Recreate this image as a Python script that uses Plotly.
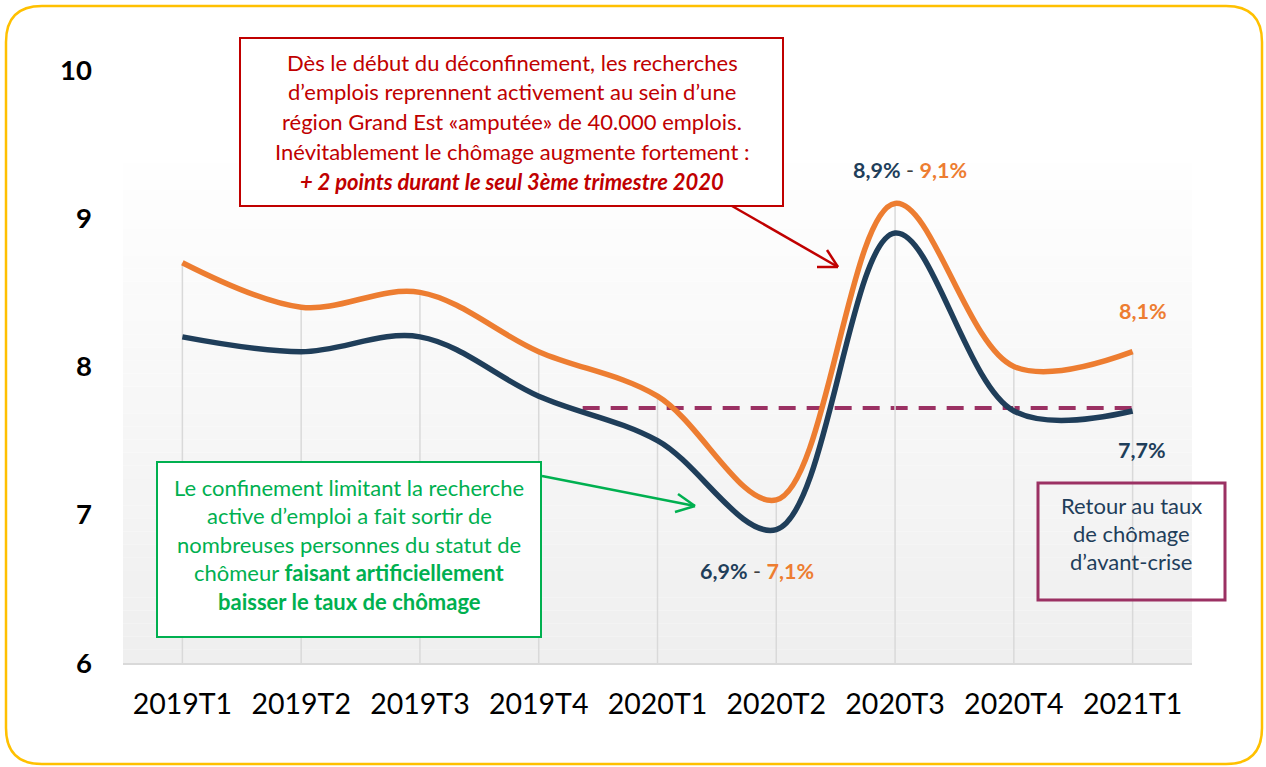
import plotly.graph_objects as go

# ---------------- data ----------------
categories = ["2019T1", "2019T2", "2019T3", "2019T4", "2020T1",
              "2020T2", "2020T3", "2020T4", "2021T1"]
serie_bleue = [8.2, 8.1, 8.2, 7.8, 7.5, 6.9, 8.9, 7.7, 7.7]
serie_orange = [8.7, 8.4, 8.5, 8.1, 7.8, 7.1, 9.1, 8.0, 8.1]
y_ticks = [6, 7, 8, 9, 10]
niveau_avant_crise = 7.72

# ---------------- style ----------------
W, H = 1266, 767
L, R, T, B = 123, 74, 70, 104
PW, PH = W - L - R, H - T - B
BLUE = "#1F3E5A"
ORANGE = "#ED7D31"
RED = "#C00000"
GREEN = "#00B050"
PURPLE = "#9B3163"
FONT = "Lato"
TXT = 22


def px(xp, yp):
    """pixel -> paper coordinates"""
    return (xp - L) / PW, (H - B - yp) / PH


fig = go.Figure()

# drop lines (from axis to highest series value)
dx, dy = [], []
for c, a, b in zip(categories, serie_bleue, serie_orange):
    dx += [c, c, None]
    dy += [y_ticks[0], max(a, b), None]
fig.add_trace(go.Scatter(x=dx, y=dy, mode="lines", hoverinfo="skip",
                         line=dict(color="#D9D9D9", width=1.5), showlegend=False))

fig.add_trace(go.Scatter(x=categories, y=serie_orange, mode="lines",
                         line=dict(color=ORANGE, width=5.5, shape="spline", smoothing=1.0),
                         showlegend=False))
fig.add_trace(go.Scatter(x=categories, y=serie_bleue, mode="lines",
                         line=dict(color=BLUE, width=5.5, shape="spline", smoothing=1.0),
                         showlegend=False))

shapes = []
# gradient background of the plot area
n = 40
top = px(0, 137)[1]
for i in range(n):
    f = i / (n - 1)
    v = int(round(239 + (255 - 239) * f))
    shapes.append(dict(type="rect", xref="paper", yref="paper", layer="below",
                       x0=0, x1=1, y0=top * i / n, y1=top * (i + 1) / n,
                       line=dict(width=0), fillcolor=f"rgb({v},{v},{v})"))

# pre-crisis dashed reference line
shapes.append(dict(type="line", xref="x", yref="y", layer="below",
                   x0=3.37, x1=8, y0=niveau_avant_crise, y1=niveau_avant_crise,
                   line=dict(color=PURPLE, width=4, dash="17px,11px")))


def rect(x0, y0, x1, y1, color, width, fill="white"):
    a = px(x0, y0)
    b = px(x1, y1)
    shapes.append(dict(type="rect", xref="paper", yref="paper", layer="above",
                       x0=a[0], y0=b[1], x1=b[0], y1=a[1],
                       line=dict(color=color, width=width), fillcolor=fill))


def seg(p, q, color, width=2.5):
    a = px(*p)
    b = px(*q)
    shapes.append(dict(type="line", xref="paper", yref="paper", layer="above",
                       x0=a[0], y0=a[1], x1=b[0], y1=b[1],
                       line=dict(color=color, width=width)))


rect(240, 38, 783, 206, RED, 2)
rect(157, 462, 541, 637, GREEN, 2)
rect(1038, 483, 1225, 600, PURPLE, 3, fill="rgba(0,0,0,0)")

# arrows
seg((732, 206), (838, 267), RED)
seg((838, 267), (827, 250), RED)
seg((838, 267), (817, 267), RED)
seg((542, 476), (695, 506), GREEN)
seg((695, 506), (678, 494), GREEN)
seg((695, 506), (675, 512), GREEN)

# outer rounded gold frame
x0, y0, x1, y1, r = 6, 6, 1262, 764, 36


def P(a, b):
    q = px(a, b)
    return f"{q[0]:.5f},{q[1]:.5f}"


path = (f"M {P(x0 + r, y0)} L {P(x1 - r, y0)} Q {P(x1, y0)} {P(x1, y0 + r)} "
        f"L {P(x1, y1 - r)} Q {P(x1, y1)} {P(x1 - r, y1)} "
        f"L {P(x0 + r, y1)} Q {P(x0, y1)} {P(x0, y1 - r)} "
        f"L {P(x0, y0 + r)} Q {P(x0, y0)} {P(x0 + r, y0)} Z")
shapes.append(dict(type="path", xref="paper", yref="paper", path=path, layer="above",
                   line=dict(color="#FFC000", width=2.5)))

annotations = []


def text(xp, yp, s, color, size=TXT):
    a = px(xp, yp)
    annotations.append(dict(xref="paper", yref="paper", x=a[0], y=a[1], text=s,
                            showarrow=False, xanchor="center", yanchor="middle",
                            font=dict(family=FONT, size=size, color=color)))


red_lines = ["Dès le début du déconfinement, les recherches",
             "d’emplois reprennent activement au sein d’une",
             "région Grand Est «amputée» de 40.000 emplois.",
             "Inévitablement le chômage augmente fortement :",
             "<b><i>+ 2 points durant le seul 3ème trimestre 2020</i></b>"]
for i, s in enumerate(red_lines):
    text(512, 62 + i * 29.8, s, RED)

green_lines = ["Le confinement limitant la recherche",
               "active d’emploi a fait sortir de",
               "nombreuses personnes du statut de",
               "chômeur <b>faisant artificiellement</b>",
               "<b>baisser le taux de chômage</b>"]
for i, s in enumerate(green_lines):
    text(349, 487 + i * 28.6, s, GREEN)

purple_lines = ["Retour au taux", "de chômage", "d’avant-crise"]
for i, s in enumerate(purple_lines):
    text(1131, 505 + i * 28, s, BLUE)


def lab(cat, val, s, xs, ys):
    annotations.append(dict(xref="x", yref="y", x=cat, y=val, text=s, showarrow=False,
                            xshift=xs, yshift=ys, xanchor="center", yanchor="middle",
                            font=dict(family=FONT, size=21.5, color=BLUE)))


def pair(a, b):
    return (f"<b><span style='color:{BLUE}'>{a}</span></b>"
            f"<span style='color:#404040'> - </span>"
            f"<b><span style='color:{ORANGE}'>{b}</span></b>")


def pct(v):
    return f"{v:.1f}%".replace(".", ",")


i3 = categories.index("2020T3")
i2 = categories.index("2020T2")
lab(categories[i3], serie_orange[i3], pair(pct(serie_bleue[i3]), pct(serie_orange[i3])), 15, 33)
lab(categories[i2], serie_bleue[i2], pair(pct(serie_bleue[i2]), pct(serie_orange[i2])), -19, -41)
lab(categories[-1], serie_orange[-1],
    f"<b><span style='color:{ORANGE}'>{pct(serie_orange[-1])}</span></b>", 10, 41)
lab(categories[-1], serie_bleue[-1],
    f"<b><span style='color:{BLUE}'>{pct(serie_bleue[-1])}</span></b>", 9, -39)

fig.update_layout(
    width=W, height=H,
    margin=dict(l=L, r=R, t=T, b=B, pad=0),
    paper_bgcolor="white", plot_bgcolor="white",
    shapes=shapes, annotations=annotations,
    xaxis=dict(type="category", range=[-0.5, len(categories) - 0.5],
               showgrid=False, zeroline=False, showline=True,
               linecolor="#D9D9D9", linewidth=2, ticks="",
               tickfont=dict(family=FONT, size=28.5, color="black"),
               ticklabelstandoff=15),
    yaxis=dict(range=[y_ticks[0], y_ticks[-1]], tickvals=y_ticks,
               showgrid=False, zeroline=False, showline=False, ticks="",
               tickfont=dict(family=FONT, size=27.5, color="black", weight="bold"),
               ticklabelstandoff=30),
    hovermode=False,
)

fig.write_html("out.html",
               config={"displayModeBar": False, "staticPlot": True},
               post_script="document.body.style.margin='0';document.body.style.overflow='hidden';")
